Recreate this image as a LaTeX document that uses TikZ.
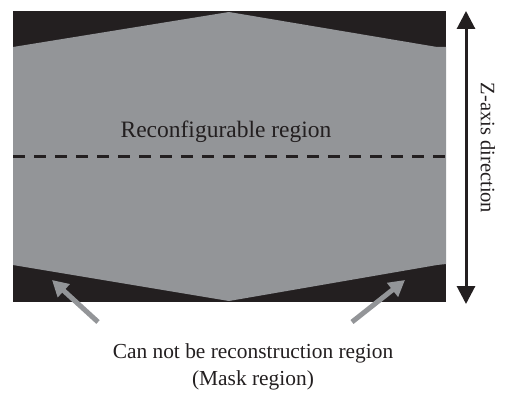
\documentclass[tikz,border=0pt]{standalone}
\usepackage{fontspec}
\setmainfont{Liberation Serif}
\usetikzlibrary{arrows.meta}
\definecolor{maskblack}{HTML}{231F20}
\definecolor{regiongray}{HTML}{939598}
\tikzset{
  pointer/.style={draw=regiongray, line width=5pt, -{Triangle[width=17pt,length=16pt]}},
  zarrow/.style={draw=maskblack, line width=3pt, {Triangle[width=18pt,length=18pt]}-{Triangle[width=18pt,length=18pt]}},
  lbl/.style={inner sep=0pt, text=maskblack}
}
\begin{document}
\begin{tikzpicture}[x=1pt,y=-1pt]
\useasboundingbox (0,0) rectangle (506,412);
% black mask rectangle
\fill[maskblack] (13,11) rectangle (446,302);
% gray reconfigurable region
\fill[regiongray] (13,47) -- (229,12) -- (437,47) -- (446,47) -- (446,264)
  -- (437,265) -- (229,301) -- (13,265) -- cycle;
% dashed middle line
\coordinate (dl) at (13,156);
\coordinate (dr) at (446,156);
\draw[maskblack, line width=3pt, dash pattern=on 12pt off 9pt] (dl) -- (dr);
\node[lbl, font=\fontsize{23.5}{28}\selectfont] (rec) at (226,132) {Reconfigurable region};
% Z-axis arrow
\coordinate (zt) at (466,11);
\coordinate (zb) at (466,304);
\draw[zarrow] (zb) -- (zt);
\node[lbl, rotate=-90, font=\fontsize{20.5}{24}\selectfont] (zl) at (488,148) {Z-axis direction};
% pointers
\coordinate (p1s) at (98,322);
\coordinate (p1e) at (52,280);
\coordinate (p2s) at (352,322);
\coordinate (p2e) at (405,280);
\draw[pointer] (p1s) -- (p1e);
\draw[pointer] (p2s) -- (p2e);
% caption
\node[lbl, align=center, font=\fontsize{21.4}{27}\selectfont] (cap) at (253,367)
  {Can not be reconstruction region\\(Mask region)};
\end{tikzpicture}
\end{document}
